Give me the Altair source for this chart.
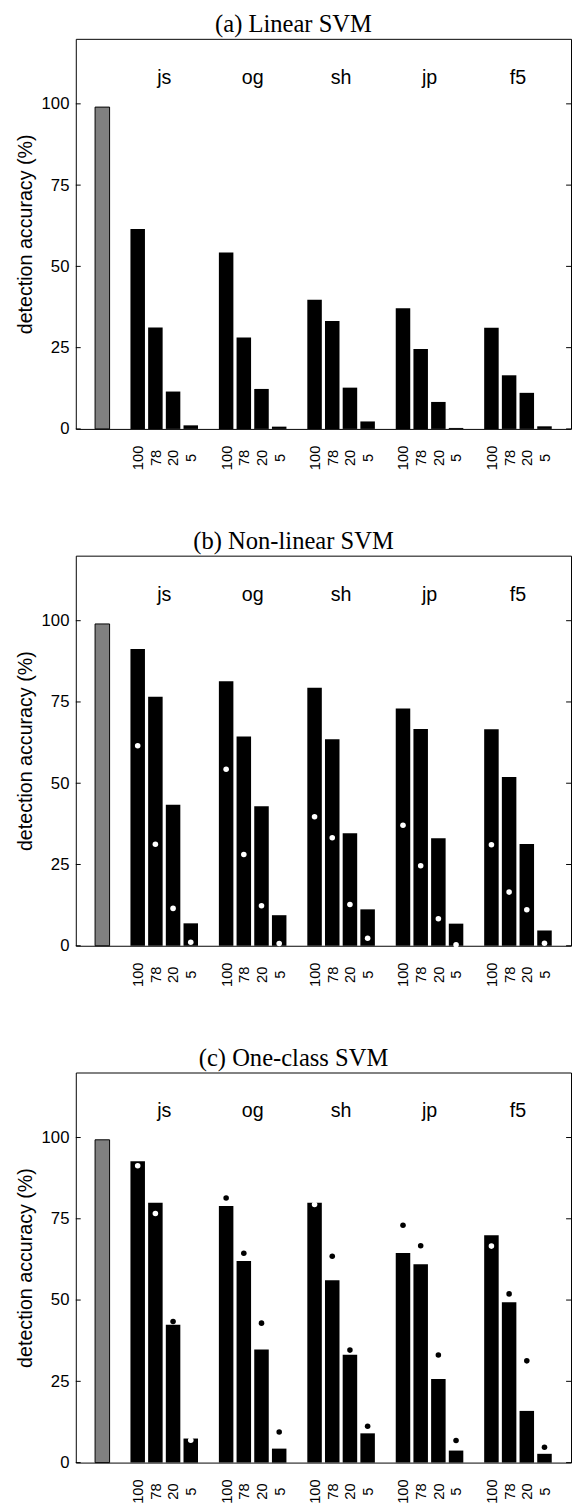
import altair as alt
import pandas as pd

# ---- data ----
groups = ["js", "og", "sh", "jp", "f5"]
rates = ["100", "78", "20", "5"]
titles = ["(a) Linear SVM", "(b) Non-linear SVM", "(c) One-class SVM"]
cover_acc = [99.0, 99.0, 99.3]

linear = [
    [61.5, 31.2, 11.5, 1.1],
    [54.3, 28.1, 12.3, 0.7],
    [39.7, 33.2, 12.7, 2.3],
    [37.1, 24.6, 8.3, 0.3],
    [31.1, 16.5, 11.1, 0.8],
]
nonlinear = [
    [91.3, 76.6, 43.4, 6.9],
    [81.4, 64.4, 42.9, 9.4],
    [79.4, 63.5, 34.6, 11.2],
    [73.0, 66.7, 33.1, 6.8],
    [66.6, 51.9, 31.3, 4.7],
]
oneclass = [
    [92.7, 79.9, 42.4, 7.4],
    [78.9, 62.0, 34.8, 4.3],
    [79.9, 56.1, 33.2, 9.0],
    [64.5, 61.0, 25.7, 3.7],
    [69.9, 49.3, 15.9, 2.7],
]
y_ticks = [0, 25, 50, 75, 100]
group_label_level = 108

# ---- layout ----
W, H = 504, 397
XDOM = [-1.5, 26.5]
YDOM = [0, 120]
HALF = 0.41
FONT = "Liberation Sans"

xscale = alt.Scale(domain=XDOM, nice=False, zero=False)
yscale = alt.Scale(domain=YDOM, nice=False, zero=False)

slots = [2 + 5 * g + k for g in range(len(groups)) for k in range(len(rates))]
label_expr = "[" + ",".join("'%s'" % r for r in rates) + "][(datum.value - 2) % 5]"

xaxis = alt.Axis(values=slots, labelExpr=label_expr, labelAngle=270, labelAlign="center",
                 labelBaseline="middle", labelPadding=29, ticks=False, tickSize=0,
                 domain=False, grid=False, labelFontSize=15, labelFont=FONT,
                 labelColor="black", title=None, labelOverlap=False)
yaxis = alt.Axis(values=y_ticks, ticks=False, tickSize=0, domain=False, grid=False,
                 labelFontSize=17, labelFont=FONT, labelColor="black", labelPadding=7,
                 title="detection accuracy (%)", titleFont=FONT, titleFontSize=20,
                 titleFontWeight="normal", titleColor="black", titlePadding=6)


def X(field):
    return alt.X(field, scale=xscale, axis=xaxis)


def Y(field):
    return alt.Y(field, scale=yscale, axis=yaxis)


def bars_df(vals, prev):
    rows = []
    for g, name in enumerate(groups):
        for k, r in enumerate(rates):
            rows.append(dict(group=name, rate=r, g=g, k=k, value=vals[g][k],
                             prev=(prev[g][k] if prev is not None else -1)))
    return pd.DataFrame(rows)


def panel(idx, vals, prev):
    df = bars_df(vals, prev)
    base = alt.Chart(df).transform_calculate(
        slot="2 + 5 * datum.g + datum.k",
    ).transform_calculate(
        lo="datum.slot - %f" % HALF, hi="datum.slot + %f" % HALF
    )
    bars = base.mark_bar(color="black").encode(
        x=X("lo:Q"), x2="hi:Q", y=Y("value:Q"), y2=alt.datum(0),
    )
    cover = alt.Chart(pd.DataFrame({"value": [cover_acc[idx]], "slot": [0]})).transform_calculate(
        lo="datum.slot - %f" % HALF, hi="datum.slot + %f" % HALF
    ).mark_bar(color="#808080", stroke="black", strokeWidth=1).encode(
        x=X("lo:Q"), x2="hi:Q", y=Y("value:Q"), y2=alt.datum(0),
    )
    gl = alt.Chart(pd.DataFrame({"group": groups, "gi": list(range(len(groups)))})).transform_calculate(
        xc="2 + 5 * datum.gi + 1.5"
    ).mark_text(font=FONT, fontSize=20, color="black", baseline="middle", align="center").encode(
        x=X("xc:Q"),
        y=alt.Y(datum=group_label_level, scale=yscale, axis=yaxis),
        text="group:N",
    )
    tdf = pd.DataFrame({"t": y_ticks})
    lt = alt.Chart(tdf).mark_rule(color="black", strokeWidth=1).encode(
        y=Y("t:Q"), x=alt.value(0), x2=alt.value(5))
    rt = alt.Chart(tdf).mark_rule(color="black", strokeWidth=1).encode(
        y=Y("t:Q"), x=alt.value(W - 5), x2=alt.value(W))
    layers = [bars, cover, gl, lt, rt]
    if prev is not None:
        dots = base.transform_calculate(
            dotcolor="datum.value >= datum.prev ? 'white' : 'black'"
        ).mark_circle(size=32, opacity=1).encode(
            x=X("slot:Q"), y=Y("prev:Q"),
            color=alt.Color("dotcolor:N", scale=None),
        )
        layers.append(dots)
    return alt.layer(*layers).properties(
        width=W, height=H,
        title=alt.TitleParams(titles[idx], font="Liberation Serif", fontSize=25,
                              fontWeight="normal", anchor="middle", frame="bounds",
                              offset=2, color="black"),
    )


chart = alt.vconcat(
    panel(0, linear, None),
    panel(1, nonlinear, linear),
    panel(2, oneclass, nonlinear),
    spacing=58,
).properties(
    padding={"left": 7, "top": -10, "right": 0, "bottom": 0},
    background="white",
).configure_view(stroke="black", strokeWidth=1)

chart.save("out.html", embed_options={"renderer": "svg", "actions": False})
